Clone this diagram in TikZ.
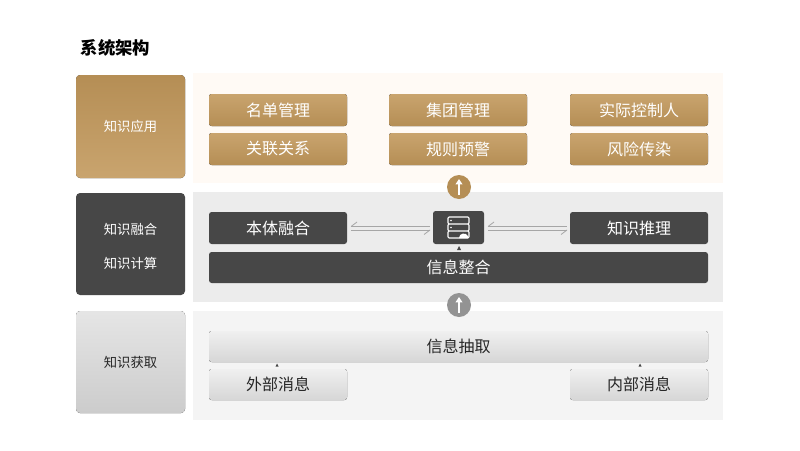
\documentclass[tikz,border=0pt]{standalone}
\usepackage{fontspec}
\setmainfont{Noto Sans CJK SC}
\usetikzlibrary{arrows.meta}
\definecolor{gold}{HTML}{B58E55}
\definecolor{goldl}{HTML}{C9A46E}
\definecolor{dark}{HTML}{474747}
\tikzset{
 px/.style={x=0.75pt,y=-0.75pt},
 gbtn/.style={rounded corners=2pt,top color=goldl,bottom color=gold,draw=none},
 dbtn/.style={rounded corners=2pt,fill=dark},
 lbtn/.style={rounded corners=2pt,top color=gray!12,bottom color=gray!32},
 wt/.style={text=white,font=\fontsize{12}{14}\selectfont},
 bt/.style={text=black!85,font=\fontsize{12}{14}\selectfont},
 lt/.style={text=white,font=\fontsize{10}{12}\selectfont},
 line/.style={gray!70,line width=0.6pt},
}
\begin{document}
\begin{tikzpicture}[px]
\useasboundingbox (0,0) rectangle (800,450);
\fill[white] (0,0) rectangle (800,450);
\node[anchor=west,font=\fontsize{13}{15}\selectfont\bfseries] (title) at (76,48) {系统架构};
% panels
\fill[orange!4] (193,73) rectangle (723,183);
\fill[gray!15] (193,192) rectangle (723,302);
\fill[gray!9] (193,311) rectangle (723,420);
% left
\fill[rounded corners=3pt,top color=gold,bottom color=goldl] (76,75) rectangle (185,178);
\node[lt] (l1) at (130.5,126.5) {知识应用};
\fill[rounded corners=3pt,fill=dark] (76,193) rectangle (185,295);
\node[lt] (l2a) at (130.5,229) {知识融合};
\node[lt] (l2b) at (130.5,263) {知识计算};
\fill[rounded corners=3pt,top color=gray!20,bottom color=gray!40] (76,311) rectangle (185,413);
\node[lt,text=black!85] (l3) at (130.5,362) {知识获取};
% gold buttons
\foreach \x/\a/\b in {209/名单管理/关联关系,389/集团管理/规则预警,570/实际控制人/风险传染}{
 \fill[gbtn] (\x,94) rectangle ++(138,32);
 \node[wt] at (\x+69,110) {\a};
 \fill[gbtn] (\x,133) rectangle ++(138,32);
 \node[wt] at (\x+69,149) {\b};
}
% circles
\node[circle,fill=gold,minimum size=18pt,inner sep=0] (c1) at (459,187) {};
\draw[white,line width=1.2pt,-{Triangle[width=5pt,length=4pt]}] (459,195) -- (459,179);
\node[circle,fill=gray!85,minimum size=18pt,inner sep=0] (c2) at (459,305) {};
\draw[white,line width=1.2pt,-{Triangle[width=5pt,length=4pt]}] (459,313) -- (459,297);
% row2
\fill[dbtn] (209,212) rectangle (347,244); \node[wt] (bt) at (278,228) {本体融合};
\fill[dbtn] (570,212) rectangle (708,244); \node[wt] (tl) at (639,228) {知识推理};
\fill[dbtn] (433,211) rectangle (484,244);
\node (ic) at (458.5,227.5) {};
\draw[white,line width=0.8pt,rounded corners=0.8pt] (448,217) rectangle (469,224) (448,224) rectangle (469,231) (448,231) rectangle (469,238);
\fill[white] (451,220.5) circle (0.8) (451,227.5) circle (0.8);
\fill[white] (459,238) .. controls (459,233) and (466,232) .. (468,236) -- (468,238) -- cycle;
\fill[dbtn] (209,252) rectangle (708,283); \node[wt] (zh) at (458.5,267.5) {信息整合};
\fill[dark] (459,246) -- (457,250) -- (461,250) -- cycle;
% harpoons
\foreach \a/\b in {351/430,488/567}{
 \draw[line] (\a,226.5) -- (\b,226.5) (\a,230) -- (\b,230);
 \draw[line] (\a,226.5) -- (\a+6,222) (\b,230) -- (\b-6,234.5);
}
% row3
\fill[lbtn] (209,331) rectangle (708,362); \node[bt] (cq) at (458.5,346.5) {信息抽取};
\fill[lbtn] (209,369) rectangle (347,400); \node[bt] (wb) at (278,384.5) {外部消息};
\fill[lbtn] (570,369) rectangle (708,400); \node[bt] (nb) at (639,384.5) {内部消息};
\fill[dark] (277,363.5) -- (275.5,366.5) -- (278.5,366.5) -- cycle;
\fill[dark] (640,363.5) -- (638.5,366.5) -- (641.5,366.5) -- cycle;
\end{tikzpicture}
\end{document}
